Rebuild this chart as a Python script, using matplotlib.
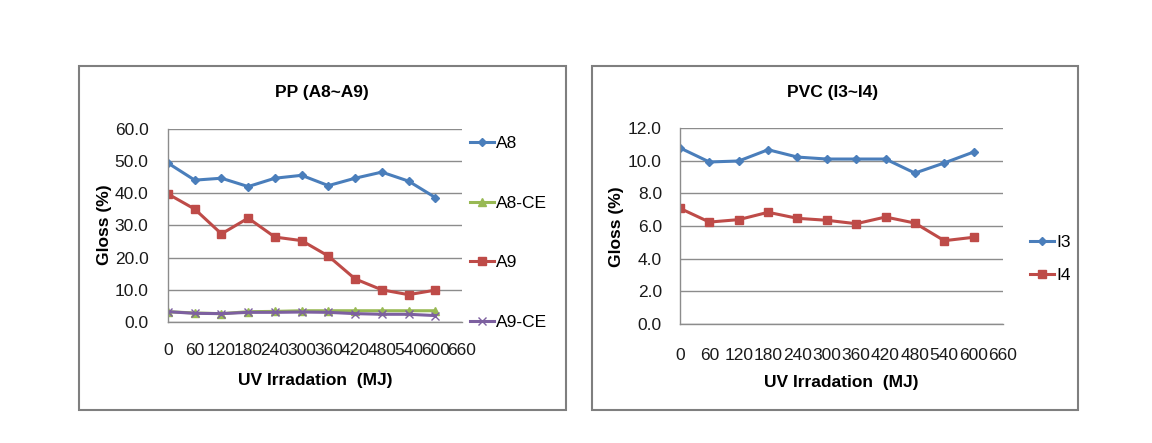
import matplotlib
matplotlib.use("Agg")
import matplotlib.pyplot as plt
from matplotlib.patches import Rectangle

plt.rcParams['font.family'] = ['Liberation Sans', 'DejaVu Sans']

# UV irradiation (MJ)
uv = [0, 60, 120, 180, 240, 300, 360, 420, 480, 540, 600]
xticks = [0, 60, 120, 180, 240, 300, 360, 420, 480, 540, 600, 660]

# PP (A8~A9), gloss %
a8 = [49.4, 44.1, 44.7, 42.1, 44.7, 45.6, 42.4, 44.7, 46.6, 43.8, 38.7]
a8_ce = [3.2, 2.8, 2.6, 3.2, 3.3, 3.5, 3.5, 3.5, 3.5, 3.5, 3.5]
a9 = [39.8, 35.1, 27.4, 32.3, 26.4, 25.3, 20.5, 13.4, 10.0, 8.5, 9.9]
a9_ce = [3.2, 2.7, 2.6, 3.0, 3.0, 3.1, 3.0, 2.6, 2.4, 2.4, 2.0]

# PVC (I3~I4), gloss %
i3 = [10.78, 9.92, 9.98, 10.67, 10.22, 10.1, 10.1, 10.1, 9.24, 9.86, 10.53]
i4 = [7.08, 6.24, 6.39, 6.84, 6.47, 6.35, 6.14, 6.55, 6.18, 5.1, 5.31]

BLUE = '#4a7ebb'
RED = '#be4b48'
GREEN = '#98b954'
PURPLE = '#7d60a0'
GRID = '#8c8c8c'

W, H = 1152, 443
fig = plt.figure(figsize=(W / 100, H / 100), dpi=100)


def px_axes(left, top, right, bottom):
    return fig.add_axes([left / W, 1 - bottom / H, (right - left) / W, (bottom - top) / H])


def style(ax, ymax, ystep, xpad, ypad):
    ax.set_xlim(0, 660)
    ax.set_xticks(xticks)
    ax.set_ylim(0, ymax)
    yt = [ystep * k for k in range(int(round(ymax / ystep)) + 1)]
    ax.set_yticks(yt)
    ax.set_yticklabels([f"{v:.1f}" for v in yt])
    ax.grid(axis='y', color=GRID, lw=1.0)
    ax.set_axisbelow(True)
    for s in ['top', 'right']:
        ax.spines[s].set_visible(False)
    for s in ['left', 'bottom']:
        ax.spines[s].set_color(GRID)
        ax.spines[s].set_linewidth(1.0)
    ax.tick_params(axis='both', length=0, labelsize=12.5, colors='#1a1a1a')
    ax.tick_params(axis='x', pad=xpad)
    ax.tick_params(axis='y', pad=ypad)


# panel frames
for x0, x1 in [(79, 566), (592, 1078)]:
    fig.patches.append(Rectangle((x0 / W, 1 - 410 / H), (x1 - x0) / W, (410 - 66) / H,
                                 transform=fig.transFigure, fill=False,
                                 edgecolor='#7f7f7f', lw=1.5))

# ---- left chart: PP ----
ax1 = px_axes(168, 129, 462, 322)
style(ax1, 60, 10, 15, 14)
ax1.plot(uv, a8, color=BLUE, lw=2.2, marker='D', ms=4.5, label='A8')
ax1.plot(uv, a8_ce, color=GREEN, lw=2.2, marker='^', ms=5.5, label='A8-CE')
ax1.plot(uv, a9, color=RED, lw=2.2, marker='s', ms=5.5, label='A9')
ax1.plot(uv, a9_ce, color=PURPLE, lw=2.2, marker='x', ms=5.5, mew=1.0, label='A9-CE')
ax1.legend(loc='center left', bbox_to_anchor=(470 / W, 1 - 233 / H),
           bbox_transform=fig.transFigure, frameon=False, fontsize=12.5,
           borderpad=0, borderaxespad=0, labelspacing=2.55,
           handlelength=1.4, handletextpad=0.1)

fig.text(322 / W, 1 - 93 / H, 'PP (A8~A9)', ha='center', va='center',
         fontsize=12.5, fontweight='bold')
fig.text(315 / W, 1 - 381 / H, 'UV Irradation  (MJ)', ha='center', va='center',
         fontsize=12.5, fontweight='bold')
fig.text(105 / W, 1 - 225 / H, 'Gloss (%)', ha='center', va='center',
         rotation=90, fontsize=12.5, fontweight='bold')

# ---- right chart: PVC ----
ax2 = px_axes(680, 128, 1003, 324)
style(ax2, 12, 2, 17, 13)
ax2.plot(uv, i3, color=BLUE, lw=2.2, marker='D', ms=4.5, label='I3')
ax2.plot(uv, i4, color=RED, lw=2.2, marker='s', ms=5.5, label='I4')
ax2.legend(loc='center left', bbox_to_anchor=(1030 / W, 1 - 259 / H),
           bbox_transform=fig.transFigure, frameon=False, fontsize=12.5,
           borderpad=0, borderaxespad=0, labelspacing=1.0,
           handlelength=1.4, handletextpad=0.1)

fig.text(833 / W, 1 - 93 / H, 'PVC (I3~I4)', ha='center', va='center',
         fontsize=12.5, fontweight='bold')
fig.text(841 / W, 1 - 382 / H, 'UV Irradation  (MJ)', ha='center', va='center',
         fontsize=12.5, fontweight='bold')
fig.text(617 / W, 1 - 227 / H, 'Gloss (%)', ha='center', va='center',
         rotation=90, fontsize=12.5, fontweight='bold')

fig.savefig('out.png', dpi=100)
